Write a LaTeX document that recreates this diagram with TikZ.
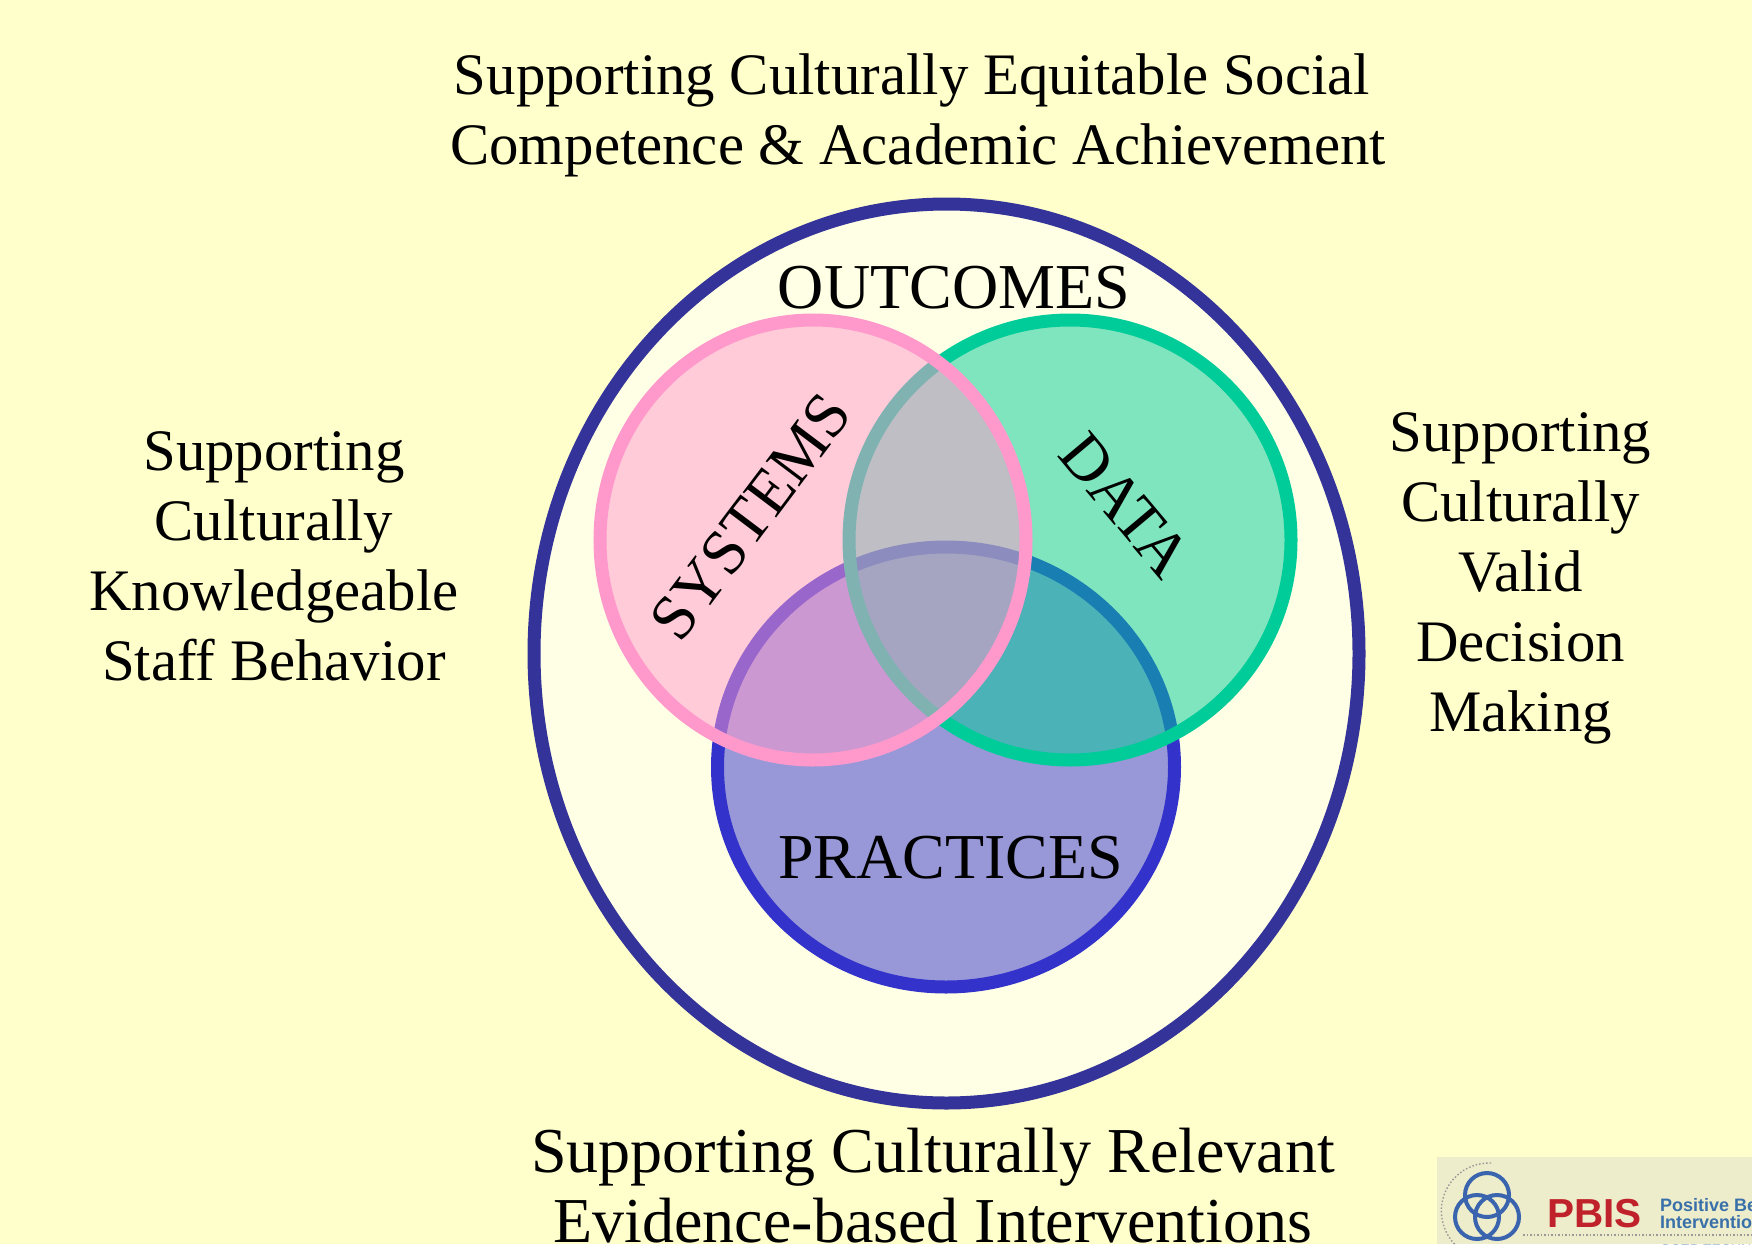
\documentclass[tikz,border=0pt]{standalone}
\usepackage{fontspec}
\setmainfont{Liberation Serif}
\newfontfamily\logofont{Liberation Sans}
\definecolor{pagebg}{HTML}{FFFFCC}
\definecolor{outerfill}{HTML}{FFFFE6}
\definecolor{outerline}{HTML}{333399}
\definecolor{pinkc}{HTML}{FF99CC}
\definecolor{greenc}{HTML}{00CC99}
\definecolor{bluec}{HTML}{3333CC}
\definecolor{logobg}{HTML}{EDEDCB}
\definecolor{logoblue}{HTML}{3A64AE}
\definecolor{logored}{HTML}{C0222B}
\definecolor{logotext}{HTML}{3A70AA}
\tikzset{
  x=1pt,y=-1pt,
  ring/.style={draw=#1,fill=#1,line width=13pt,fill opacity=.5,draw opacity=1},
  big/.style={font=\fontsize{58.8}{70}\selectfont,align=center,text=black,inner sep=0pt},
  large/.style={font=\fontsize{64}{70}\selectfont,align=center,text=black,inner sep=0pt},
  logoring/.style={draw=logoblue,line width=4pt},
  logodot/.style={draw=gray!80,line width=1.4pt,dash pattern=on 1.5pt off 2pt},
}
\begin{document}
\begin{tikzpicture}
\useasboundingbox (0,0) rectangle (1752,1244);
\clip (0,0) rectangle (1752,1244);
\fill[pagebg] (0,0) rectangle (1752,1244);
% logo
\fill[logobg] (1437,1157) rectangle (1752,1244);
\draw[logodot] (1491,1163) arc[start angle=-88,end angle=-232,radius=48];
\draw[logodot] (1523,1235) -- (1752,1235);
\draw[logoring] (1487,1195) circle[radius=22];
\draw[logoring] (1477,1217) circle[radius=22];
\draw[logoring] (1497,1217) circle[radius=22];
\node[anchor=base west,inner sep=0pt,text=logored,font=\logofont\bfseries\fontsize{40.5}{40.5}\selectfont] (pbis) at (1547,1227) {PBIS};
\node[anchor=base west,inner sep=0pt,text=logotext,font=\logofont\bfseries\fontsize{18}{18}\selectfont] (pos) at (1660,1211) {Positive Behavioral};
\node[anchor=base west,inner sep=0pt,text=logotext,font=\logofont\bfseries\fontsize{18}{18}\selectfont] (int) at (1660,1228) {Interventions};
\node[anchor=base west,inner sep=0pt,text=logotext!60,font=\logofont\fontsize{14}{14}\selectfont] (osep) at (1660,1254) {OSEP TECHNICAL ASSISTANCE};
% venn
\draw[draw=outerline,fill=outerfill,line width=13pt] (946.5,653.5) ellipse[x radius=412.5,y radius=449.5];
\draw[ring=bluec] (946,767) ellipse[x radius=228.5,y radius=220];
\draw[ring=greenc] (1070,540) ellipse[x radius=221,y radius=220];
\draw[ring=pinkc] (813,540) ellipse[x radius=213,y radius=220];
% labels
\node[big] (top) at (918,115.5) {Supporting Culturally Equitable Social\hspace*{12pt}\\Competence \& Academic Achievement};
\node[big] (left) at (274,556.5) {Supporting\\Culturally\\Knowledgeable\\Staff Behavior};
\node[big] (right) at (1520.5,578.5) {Supporting\\Culturally\\Valid\\Decision\\Making};
\node[large,anchor=north] (bottom) at (933,1127.5) {Supporting Culturally Relevant\\Evidence-based Interventions};
\node[large,anchor=base] (out) at (954,308) {OUTCOMES};
\node[large,anchor=base] (prac) at (950.5,878) {PRACTICES};
\node[large,rotate=53] (sys) at (751,517) {SYSTEMS};
\node[large,rotate=-50] (data) at (1125.5,505) {DATA};
\end{tikzpicture}
\end{document}
